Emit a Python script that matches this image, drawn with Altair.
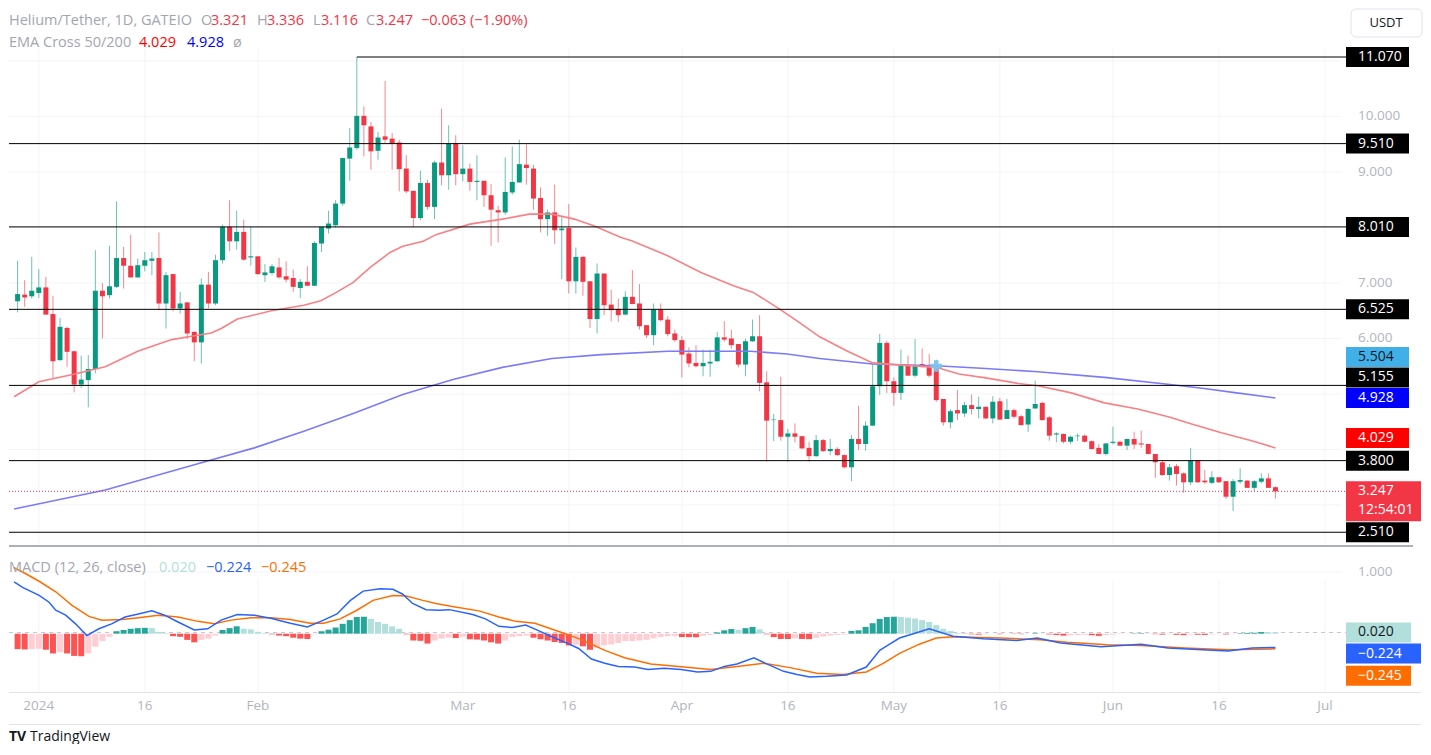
import altair as alt
import pandas as pd

FONT = "Open Sans"
UP, DN = "#089981", "#F23645"
GRAY_TXT = "#A3A6AF"
AXIS_TXT = "#B2B5BE"

# ---------------- data ----------------
first_day = -5          # first candle = 2023-12-27 (days after 2024-01-01), daily candles
open_ = [7.09, 6.61, 6.67, 6.79, 6.76, 6.82, 6.92, 6.44, 5.61, 6.19,
         5.77, 5.17, 5.25, 5.45, 6.86, 6.78, 6.93, 7.45, 7.31, 7.10,
         7.31, 7.40, 7.45, 6.63, 7.16, 6.54, 6.65, 6.12, 5.93, 6.97,
         6.63, 7.41, 8.01, 7.75, 7.92, 7.46, 7.48, 7.14, 7.18, 7.28,
         7.12, 7.09, 6.91, 7.02, 6.95, 7.71, 7.98, 8.04, 8.43, 9.24,
         9.43, 10.01, 9.82, 9.38, 9.64, 9.60, 9.53, 9.06, 8.66, 8.17,
         8.80, 8.37, 9.17, 8.94, 9.51, 8.96, 9.06, 8.82, 8.84, 8.58,
         8.31, 8.27, 8.63, 8.81, 9.13, 9.06, 8.53, 8.15, 8.27, 7.95,
         7.99, 7.03, 7.47, 7.03, 6.35, 7.17, 6.61, 6.53, 6.43, 6.75,
         6.63, 6.24, 6.06, 6.52, 6.34, 6.09, 5.97, 5.73, 5.56, 5.50,
         5.55, 5.59, 6.02, 6.00, 5.90, 5.53, 5.95, 6.04, 5.21, 4.53,
         4.53, 4.23, 4.29, 4.24, 4.03, 3.88, 4.17, 3.97, 4.01, 3.90,
         3.68, 4.19, 4.10, 4.43, 5.14, 5.92, 5.23, 5.02, 5.52, 5.33,
         5.54, 5.52, 5.51, 4.91, 4.49, 4.71, 4.65, 4.80, 4.73, 4.77,
         4.56, 4.87, 4.55, 4.71, 4.60, 4.45, 4.74, 4.84, 4.58, 4.27,
         4.28, 4.14, 4.24, 4.25, 4.15, 4.03, 3.92, 4.12, 4.14, 4.07,
         4.19, 4.11, 4.10, 3.92, 3.77, 3.54, 3.70, 3.57, 3.41, 3.80,
         3.44, 3.40, 3.50, 3.43, 3.15, 3.42, 3.44, 3.31, 3.42, 3.48,
         3.321]
high_ = [7.15, 7.08, 7.40, 7.05, 7.47, 7.25, 7.11, 6.77, 6.37, 6.21,
         5.78, 5.69, 5.70, 7.59, 7.00, 7.67, 8.47, 7.65, 7.87, 7.44,
         7.56, 7.56, 7.91, 7.20, 7.16, 6.84, 6.65, 6.12, 7.08, 7.20,
         7.51, 8.05, 8.49, 8.30, 8.14, 8.01, 7.48, 7.34, 7.34, 7.45,
         7.39, 7.24, 7.07, 7.30, 7.75, 8.01, 8.30, 8.49, 9.25, 9.79,
         11.07, 10.18, 9.90, 9.72, 10.64, 9.70, 9.58, 9.30, 8.66, 9.02,
         8.86, 9.20, 10.14, 9.84, 9.66, 9.48, 9.15, 9.30, 8.84, 8.78,
         8.39, 9.26, 9.46, 9.58, 9.50, 9.13, 8.72, 8.32, 8.77, 8.20,
         8.42, 7.64, 7.49, 7.03, 7.35, 7.17, 6.88, 6.72, 6.85, 7.23,
         6.98, 6.24, 6.63, 6.63, 6.40, 6.16, 6.04, 5.84, 5.88, 5.80,
         5.80, 6.12, 6.31, 6.16, 5.90, 6.00, 6.34, 6.42, 5.41, 4.64,
         5.31, 4.37, 4.47, 4.24, 4.14, 4.26, 4.19, 4.19, 4.04, 3.91,
         4.26, 4.79, 4.51, 5.54, 6.08, 5.96, 5.30, 5.80, 5.69, 5.99,
         5.82, 5.72, 5.62, 4.91, 4.73, 5.07, 4.86, 4.99, 4.95, 4.77,
         4.96, 4.93, 4.91, 4.74, 4.62, 4.75, 5.24, 4.86, 4.61, 4.31,
         4.29, 4.25, 4.29, 4.27, 4.16, 4.10, 4.11, 4.41, 4.16, 4.19,
         4.32, 4.34, 4.10, 3.92, 3.81, 3.74, 3.74, 3.59, 4.03, 3.80,
         3.63, 3.61, 3.50, 3.43, 3.47, 3.66, 3.45, 3.45, 3.57, 3.57,
         3.336]
low_ = [6.55, 6.21, 6.47, 6.57, 6.72, 6.73, 6.43, 5.28, 5.60, 5.49,
        5.03, 5.11, 4.76, 5.37, 6.00, 6.72, 6.91, 6.90, 7.10, 7.10,
        7.21, 7.14, 6.51, 6.18, 6.49, 6.45, 5.99, 5.59, 5.55, 6.54,
        6.60, 7.35, 7.57, 7.60, 7.40, 7.31, 7.14, 7.02, 7.14, 7.08,
        7.01, 6.84, 6.73, 6.95, 6.95, 7.56, 7.89, 8.00, 8.39, 8.84,
        9.40, 9.28, 9.04, 9.22, 9.52, 9.04, 8.65, 8.62, 8.01, 8.13,
        8.32, 8.15, 8.76, 8.68, 8.76, 8.83, 8.66, 8.49, 8.37, 7.67,
        7.73, 8.23, 8.59, 8.81, 8.77, 8.32, 7.91, 7.85, 7.70, 7.07,
        6.81, 6.81, 6.77, 6.19, 6.09, 6.42, 6.31, 6.30, 6.42, 6.62,
        6.16, 6.01, 5.88, 6.31, 6.04, 5.94, 5.30, 5.48, 5.48, 5.32,
        5.31, 5.58, 5.94, 5.82, 5.48, 5.32, 5.94, 5.05, 3.78, 4.15,
        4.16, 3.78, 4.13, 4.01, 3.78, 3.87, 3.96, 3.90, 3.88, 3.66,
        3.43, 3.99, 3.98, 4.43, 4.98, 5.02, 4.79, 4.89, 5.33, 5.30,
        5.48, 5.30, 4.86, 4.43, 4.38, 4.53, 4.59, 4.63, 4.56, 4.55,
        4.47, 4.53, 4.55, 4.56, 4.43, 4.32, 4.74, 4.52, 4.16, 4.13,
        4.11, 4.10, 4.15, 4.13, 4.00, 3.92, 3.89, 4.09, 4.06, 3.99,
        4.01, 4.03, 3.91, 3.49, 3.53, 3.44, 3.35, 3.22, 3.36, 3.40,
        3.38, 3.38, 3.40, 3.11, 2.89, 3.38, 3.31, 3.25, 3.39, 3.31,
        3.116]
close_ = [6.63, 6.69, 6.80, 6.74, 6.86, 6.92, 6.43, 5.59, 6.21, 5.76,
          5.17, 5.26, 5.45, 6.86, 6.76, 6.94, 7.45, 7.31, 7.10, 7.32,
          7.41, 7.44, 6.63, 7.14, 6.54, 6.63, 6.09, 5.93, 6.97, 6.63,
          7.41, 8.01, 7.75, 7.92, 7.42, 7.48, 7.16, 7.19, 7.30, 7.10,
          7.06, 6.93, 7.02, 6.95, 7.72, 8.01, 8.07, 8.43, 9.25, 9.44,
          10.01, 9.84, 9.37, 9.62, 9.58, 9.51, 9.05, 8.65, 8.17, 8.80,
          8.37, 9.17, 8.94, 9.51, 8.96, 9.06, 8.82, 8.84, 8.58, 8.32,
          8.27, 8.64, 8.82, 9.14, 9.07, 8.52, 8.15, 8.27, 7.95, 7.98,
          7.03, 7.47, 7.02, 6.35, 7.17, 6.60, 6.51, 6.42, 6.75, 6.62,
          6.22, 6.06, 6.52, 6.33, 6.08, 5.97, 5.71, 5.55, 5.50, 5.56,
          5.58, 6.02, 5.98, 5.88, 5.53, 5.95, 6.04, 5.20, 4.52, 4.54,
          4.23, 4.29, 4.23, 4.02, 3.88, 4.17, 3.97, 4.01, 3.90, 3.68,
          4.19, 4.10, 4.43, 5.14, 5.92, 5.23, 5.02, 5.52, 5.33, 5.52,
          5.49, 5.33, 4.89, 4.49, 4.69, 4.65, 4.80, 4.73, 4.77, 4.56,
          4.86, 4.54, 4.71, 4.59, 4.44, 4.73, 4.82, 4.53, 4.25, 4.29,
          4.14, 4.23, 4.25, 4.14, 4.01, 3.92, 4.11, 4.14, 4.07, 4.19,
          4.09, 4.09, 3.92, 3.77, 3.54, 3.68, 3.56, 3.41, 3.80, 3.41,
          3.41, 3.50, 3.41, 3.15, 3.43, 3.45, 3.31, 3.43, 3.48, 3.31,
          3.247]
hist_ = [-0.21, -0.22, -0.25, -0.255, -0.25, -0.245, -0.26, -0.32, -0.30, -0.32,
         -0.36, -0.365, -0.32, -0.21, -0.12, -0.05, 0.04, 0.06, 0.08, 0.09,
         0.095, 0.09, 0.03, 0.01, -0.04, -0.05, -0.10, -0.14, -0.10, -0.08,
         -0.03, 0.06, 0.09, 0.12, 0.08, 0.07, 0.03, 0.01, -0.01, -0.03,
         -0.04, -0.065, -0.08, -0.085, -0.01, 0.04, 0.065, 0.10, 0.16, 0.22,
         0.27, 0.275, 0.24, 0.19, 0.16, 0.12, 0.08, -0.01, -0.11, -0.115,
         -0.16, -0.11, -0.08, -0.065, -0.07, -0.05, -0.09, -0.095, -0.11, -0.14,
         -0.16, -0.11, -0.05, -0.04, -0.03, -0.065, -0.09, -0.11, -0.135, -0.15,
         -0.19, -0.18, -0.205, -0.26, -0.22, -0.19, -0.175, -0.15, -0.12, -0.118,
         -0.11, -0.10, -0.075, -0.055, -0.04, -0.035, -0.055, -0.056, -0.058, -0.035,
         -0.02, 0.02, 0.055, 0.075, 0.065, 0.09, 0.11, 0.07, -0.01, -0.055,
         -0.085, -0.087, -0.075, -0.085, -0.088, -0.065, -0.045, -0.03, -0.02, -0.015,
         0.045, 0.055, 0.11, 0.17, 0.24, 0.27, 0.275, 0.27, 0.26, 0.245,
         0.22, 0.19, 0.14, 0.08, 0.045, 0.01, -0.005, -0.01, -0.015, -0.01,
         -0.003, -0.008, -0.004, -0.006, -0.008, -0.002, 0.008, 0.004, -0.012, -0.022,
         -0.032, -0.028, -0.022, -0.018, -0.025, -0.035, -0.022, -0.015, -0.008, -0.003,
         0.006, 0.008, -0.002, -0.008, -0.015, -0.01, -0.018, -0.024, -0.015, -0.017,
         -0.02, -0.012, -0.006, -0.012, -0.006, 0.008, 0.012, 0.015, 0.027, 0.025,
         0.02]

# EMA / MACD readings: days after 2024-01-01 and values
ema50_day = [-3.5, 0.0, 4.8, 9.4, 14.0, 18.8, 21.6, 24.4, 25.8, 28.1,
             32.9, 37.5, 39.9, 42.1, 44.5, 46.9, 49.7, 51.5, 54.4, 56.2,
             61.0, 65.6, 69.4, 72.6, 75.8, 78.7, 82.4, 83.9, 89.0, 93.7,
             98.3, 101.1, 104.9, 107.7, 110.5, 114.3, 118.0, 122.2, 127.0, 130.2,
             134.0, 138.6, 141.4, 146.1, 150.8, 155.5, 160.1, 162.9, 167.1, 171.9,
             175.0]
ema50_val = [4.95, 5.22, 5.35, 5.49, 5.77, 5.98, 6.04, 6.10, 6.18, 6.35,
             6.50, 6.60, 6.68, 6.83, 7.01, 7.28, 7.55, 7.66, 7.75, 7.87,
             8.06, 8.15, 8.24, 8.24, 8.15, 8.02, 7.82, 7.76, 7.49, 7.19,
             6.95, 6.83, 6.525, 6.28, 6.03, 5.78, 5.56, 5.52, 5.48, 5.36,
             5.29, 5.19, 5.15, 5.02, 4.84, 4.73, 4.58, 4.47, 4.31, 4.15,
             4.029]
ema200_day = [-3.5, 9.4, 23.5, 30.5, 37.5, 44.5, 51.5, 58.6, 65.6, 72.6,
              79.6, 89.0, 100.7, 105.9, 110.5, 118.0, 127.0, 134.0, 141.4, 150.8,
              160.1, 164.9, 169.5, 175.0]
ema200_val = [2.93, 3.27, 3.78, 4.03, 4.33, 4.65, 4.99, 5.26, 5.48, 5.64,
              5.71, 5.77, 5.77, 5.72, 5.64, 5.54, 5.51, 5.46, 5.40, 5.30,
              5.17, 5.10, 5.02, 4.928]
macd_day = [-3.5, -2.3, 0.05, 1.45, 2.4, 3.8, 5.2, 6.8, 8.5, 10.3,
            12.2, 14.1, 16.0, 17.8, 19.7, 22.0, 23.9, 25.8, 28.1, 30.5,
            32.8, 35.6, 38.0, 40.3, 42.2, 44.1, 45.9, 48.3, 50.1, 51.5,
            52.9, 54.8, 56.7, 58.1, 61.4, 63.2, 65.1, 67.0, 68.9, 70.7,
            72.6, 74.5, 76.4, 78.2, 80.1, 82.0, 84.3, 86.2, 88.5, 90.9,
            93.2, 95.1, 97.0, 98.8, 101.2, 103.0, 105.4, 107.3, 109.1, 111.5,
            114.3, 117.1, 119.0, 120.4, 121.8, 124.1, 126.0, 127.9, 129.4, 133.7,
            138.4, 141.3, 144.6, 150.3, 156.0, 159.8, 164.6, 168.3, 171.7, 175.0]
macd_val = [0.84, 0.75, 0.62, 0.51, 0.38, 0.30, 0.16, -0.03, 0.08, 0.16,
            0.27, 0.32, 0.37, 0.30, 0.19, 0.06, 0.08, 0.22, 0.31, 0.30,
            0.25, 0.17, 0.11, 0.22, 0.32, 0.54, 0.69, 0.73, 0.72, 0.64,
            0.49, 0.39, 0.38, 0.39, 0.31, 0.24, 0.12, 0.10, 0.14, 0.05,
            -0.05, -0.14, -0.24, -0.41, -0.48, -0.53, -0.54, -0.58, -0.56, -0.58,
            -0.62, -0.61, -0.53, -0.49, -0.39, -0.49, -0.61, -0.66, -0.70, -0.69,
            -0.67, -0.54, -0.27, -0.17, -0.07, 0.01, 0.08, 0.01, -0.04, -0.08,
            -0.11, -0.07, -0.15, -0.21, -0.17, -0.23, -0.26, -0.28, -0.23, -0.224]
signal_day = [-3.5, -2.3, 0.05, 2.4, 4.7, 7.1, 8.95, 11.75, 14.1, 16.9,
              19.7, 22.5, 24.85, 27.2, 30.0, 32.8, 35.6, 38.4, 40.3, 42.65,
              45.0, 47.3, 50.1, 52.0, 54.35, 56.2, 58.5, 62.3, 65.1, 67.5,
              70.2, 74.0, 76.4, 78.2, 80.1, 82.9, 86.6, 91.3, 95.1, 98.8,
              102.6, 106.3, 110.1, 113.8, 117.1, 119.5, 121.8, 124.6, 127.0, 129.4,
              136.0, 141.7, 145.5, 151.2, 156.0, 162.2, 168.3, 175.0]
signal_val = [1.07, 1.00, 0.85, 0.68, 0.46, 0.28, 0.22, 0.23, 0.26, 0.30,
              0.27, 0.20, 0.16, 0.22, 0.26, 0.26, 0.23, 0.17, 0.17, 0.24,
              0.38, 0.54, 0.62, 0.61, 0.54, 0.49, 0.44, 0.37, 0.27, 0.20,
              0.17, 0.02, -0.08, -0.17, -0.27, -0.39, -0.49, -0.54, -0.58, -0.53,
              -0.48, -0.55, -0.64, -0.66, -0.62, -0.48, -0.32, -0.17, -0.07, -0.05,
              -0.07, -0.10, -0.14, -0.18, -0.19, -0.23, -0.26, -0.245]

level_vals = [11.07, 9.51, 8.01, 6.525, 5.155, 3.80, 2.51]
level11_day = 45            # the 11.070 line starts at the top candle
cross_day, cross_val = 127, 5.504
countdown = "12:54:01"
price_ticks = [6, 7, 9, 10]
macd_ticks = [1.0]
tick_days = [0, 15, 31, 60, 75, 91, 106, 121, 136, 152, 167, 182]   # Jan 1 ... Jul 1
tick_labels = ["2024", "16", "Feb", "Mar", "16", "Apr", "16", "May", "16", "Jun", "16", "Jul"]

# ---------------- layout ----------------
W = 1332
HP, HM = 538, 142
PPD = 7.12
X_DOM = [-25 / PPD, (W - 25) / PPD]          # x in days after 2024-01-01
P_DOM = [11.07 - 490 / 55.52, 11.07 + 48 / 55.52]
M_DOM = [(631.7 - 690) / 61.7, (631.7 - 548) / 61.7]
BOX_X0, BOX_X1, TXT_X = 1337, 1400, 1349


def X():
    return alt.X("t:Q", scale=alt.Scale(domain=X_DOM, nice=False, zero=False), axis=None)


def PY(f):
    return alt.Y(f, type="quantitative",
                 scale=alt.Scale(domain=P_DOM, nice=False, zero=False), axis=None)


def MY(f):
    return alt.Y(f, type="quantitative",
                 scale=alt.Scale(domain=M_DOM, nice=False, zero=False), axis=None)


def one(**kw):
    return pd.DataFrame({k: [v] for k, v in kw.items()})


n = len(open_)
cd = pd.DataFrame({"t": [float(first_day + i) for i in range(n)],
                   "o": open_, "h": high_, "l": low_, "c": close_})
cd = cd[cd.t >= X_DOM[0]]
up_df = cd[cd.c >= cd.o]
dn_df = cd[cd.c < cd.o]

P = []
# faint grid
P.append(alt.Chart(pd.DataFrame({"v": [3, 4, 5, 6, 7, 8, 9, 10, 11]})).mark_rule(
    color="#F3F4F7", strokeWidth=1).encode(x=alt.value(0), x2=alt.value(W), y=PY("v")))
P.append(alt.Chart(pd.DataFrame({"t": [float(d) for d in tick_days]})).mark_rule(
    color="#F3F4F7", strokeWidth=1).encode(x=X(), y=alt.value(40), y2=alt.value(HP)))
# price scale labels
P.append(alt.Chart(pd.DataFrame({"v": price_ticks,
                                 "s": [f"{v:.3f}" for v in price_ticks]})).mark_text(
    align="left", baseline="middle", color=AXIS_TXT, font=FONT, fontSize=13.5).encode(
    x=alt.value(TXT_X), y=PY("v"), text="s:N"))

for df, col in ((up_df, UP), (dn_df, DN)):
    P.append(alt.Chart(df).mark_rule(color=col, strokeWidth=1, opacity=0.6).encode(
        x=X(), y=PY("l"), y2="h:Q"))
    P.append(alt.Chart(df).mark_bar(size=5, color=col).encode(
        x=X(), y=PY("o"), y2="c:Q"))

e50 = pd.DataFrame({"t": ema50_day, "v": ema50_val})
e200 = pd.DataFrame({"t": ema200_day, "v": ema200_val})
P.append(alt.Chart(e200).mark_line(color="#7B7BFA", strokeWidth=1.6).encode(x=X(), y=PY("v")))
P.append(alt.Chart(e50).mark_line(color="#F98184", strokeWidth=1.6).encode(x=X(), y=PY("v")))

P.append(alt.Chart(pd.DataFrame({"v": level_vals[1:]})).mark_rule(
    color="#000000", strokeWidth=1).encode(x=alt.value(0), x2=alt.value(BOX_X0), y=PY("v")))
P.append(alt.Chart(one(t=float(level11_day), v=level_vals[0])).mark_rule(
    color="#000000", strokeWidth=1).encode(x=X(), x2=alt.value(BOX_X0), y=PY("v")))
P.append(alt.Chart(one(v=close_[-1])).mark_rule(
    color=DN, strokeWidth=1, strokeDash=[1, 2]).encode(
    x=alt.value(0), x2=alt.value(BOX_X0), y=PY("v")))
P.append(alt.Chart(one(t=float(cross_day), v=cross_val)).mark_point(
    shape="cross", filled=True, size=130, color="#7DC3EE", opacity=0.95).encode(
    x=X(), y=PY("v")))

price_labels = [
    (f"{level_vals[0]:.3f}", level_vals[0], "#000000", "#FFFFFF", 0),
    (f"{level_vals[1]:.3f}", level_vals[1], "#000000", "#FFFFFF", 0),
    (f"{level_vals[2]:.3f}", level_vals[2], "#000000", "#FFFFFF", 0),
    (f"{level_vals[3]:.3f}", level_vals[3], "#000000", "#FFFFFF", 0),
    (f"{cross_val:.3f}", cross_val, "#42B0E8", "#131722", -9),
    (f"{level_vals[4]:.3f}", level_vals[4], "#000000", "#FFFFFF", -8),
    (f"{ema200_val[-1]:.3f}", ema200_val[-1], "#0000FF", "#FFFFFF", 0),
    (f"{ema50_val[-1]:.3f}", ema50_val[-1], "#FF0000", "#FFFFFF", -10),
    (f"{level_vals[5]:.3f}", level_vals[5], "#000000", "#FFFFFF", 0),
    (f"{level_vals[6]:.3f}", level_vals[6], "#000000", "#FFFFFF", 0),
]
for s, v, bg, fg, nd in price_labels:
    d = one(v=v, s=s)
    P.append(alt.Chart(d).mark_rect(color=bg, yOffset=-10 + nd, y2Offset=10 + nd).encode(
        x=alt.value(BOX_X0), x2=alt.value(BOX_X1), y=PY("v"), y2="v:Q"))
    P.append(alt.Chart(d).mark_text(align="left", baseline="middle", color=fg,
                                    font=FONT, fontSize=14, dy=nd).encode(
        x=alt.value(TXT_X), y=PY("v"), text="s:N"))
d = one(v=close_[-1], s=f"{close_[-1]:.3f}", s2=countdown)
P.append(alt.Chart(d).mark_rect(color=DN, yOffset=-10, y2Offset=30).encode(
    x=alt.value(BOX_X0), x2=alt.value(1412), y=PY("v"), y2="v:Q"))
P.append(alt.Chart(d).mark_text(align="left", baseline="middle", color="#FFFFFF",
                                font=FONT, fontSize=14).encode(
    x=alt.value(TXT_X), y=PY("v"), text="s:N"))
P.append(alt.Chart(d).mark_text(align="left", baseline="middle", color="#FFFFFF",
                                font=FONT, fontSize=14, dy=19).encode(
    x=alt.value(TXT_X), y=PY("v"), text="s2:N"))

chg = close_[-1] - close_[-2]
pct = chg / close_[-2] * 100
m = "\u2212"
top_legend = pd.DataFrame({
    "s": ["Helium/Tether, 1D, GATEIO", "O", f"{open_[-1]:.3f}", "H", f"{high_[-1]:.3f}",
          "L", f"{low_[-1]:.3f}", "C", f"{close_[-1]:.3f}",
          f"{chg:.3f} ({pct:.2f}%)".replace("-", m),
          "EMA Cross 50/200", f"{ema50_val[-1]:.3f}", f"{ema200_val[-1]:.3f}", "\u00f8"],
    "px": [0, 192, 202, 248, 258, 304, 312, 357, 367, 412, 0, 130, 178, 224],
    "py": [12] * 10 + [34] * 4,
    "col": [GRAY_TXT, GRAY_TXT, DN, GRAY_TXT, DN, GRAY_TXT, DN, GRAY_TXT, DN, DN,
            GRAY_TXT, "#FF0000", "#0000FF", GRAY_TXT],
})
for _, r in top_legend.iterrows():
    P.append(alt.Chart(one(s=r.s)).mark_text(align="left", baseline="middle", color=r.col,
                                             font=FONT, fontSize=14.5).encode(
        x=alt.value(int(r.px)), y=alt.value(int(r.py)), text="s:N"))
P.append(alt.Chart(one(a=1)).mark_rect(fill="#FFFFFF", stroke="#E0E3EB", strokeWidth=1,
                                       cornerRadius=5).encode(
    x=alt.value(1342), x2=alt.value(1413), y=alt.value(0), y2=alt.value(28)))
P.append(alt.Chart(one(s="USDT")).mark_text(align="center", baseline="middle",
                                            color="#131722", font=FONT, fontSize=13).encode(
    x=alt.value(1377), y=alt.value(14), text="s:N"))
P.append(alt.Chart(one(a=1)).mark_rule(color="#ADB0B8", strokeWidth=2).encode(
    x=alt.value(0), x2=alt.value(1404), y=alt.value(537)))

price_panel = alt.layer(*P).properties(width=W, height=HP)

# ---------------- MACD pane ----------------
COLS = {"pu": "#26A69A", "pd": "#B2DFDB", "nu": "#FFCDD2", "nd": "#FF5252"}
cats = []
for i, h in enumerate(hist_):
    prev = hist_[i - 1] if i > 0 else h
    if h >= 0:
        cats.append("pu" if h >= prev else "pd")
    else:
        cats.append("nd" if h <= prev else "nu")
hd = pd.DataFrame({"t": [float(first_day + i) for i in range(n)], "h": hist_, "cat": cats,
                   "z": [0.0] * n})
hd = hd[hd.t >= X_DOM[0]]
md = pd.DataFrame({"t": macd_day, "v": macd_val})
sd = pd.DataFrame({"t": signal_day, "v": signal_val})

M = []
M.append(alt.Chart(pd.DataFrame({"t": [float(d) for d in tick_days]})).mark_rule(
    color="#F3F4F7", strokeWidth=1).encode(x=X(), y=alt.value(30), y2=alt.value(HM)))
M.append(alt.Chart(pd.DataFrame({"v": macd_ticks})).mark_rule(color="#F3F4F7").encode(
    x=alt.value(0), x2=alt.value(W), y=MY("v")))
M.append(alt.Chart(one(v=hist_[-1])).mark_rule(
    color="#C3C6CE", strokeDash=[4, 4], strokeWidth=1).encode(
    x=alt.value(0), x2=alt.value(BOX_X0), y=MY("v")))
M.append(alt.Chart(hd).mark_bar(size=6).encode(
    x=X(), y=MY("h"), y2="z:Q",
    color=alt.Color("cat:N", legend=None,
                    scale=alt.Scale(domain=list(COLS.keys()), range=list(COLS.values())))))
M.append(alt.Chart(sd).mark_line(color="#FF6D00", strokeWidth=1.5).encode(x=X(), y=MY("v")))
M.append(alt.Chart(md).mark_line(color="#2962FF", strokeWidth=1.5).encode(x=X(), y=MY("v")))
M.append(alt.Chart(pd.DataFrame({"v": macd_ticks,
                                 "s": [f"{v:.3f}" for v in macd_ticks]})).mark_text(
    align="left", baseline="middle", color=AXIS_TXT, font=FONT, fontSize=13.5).encode(
    x=alt.value(TXT_X), y=MY("v"), text="s:N"))
macd_labels = [
    (f"{hist_[-1]:.3f}", hist_[-1], "#B2DFDB", "#131722", 0, 1402),
    (f"{macd_val[-1]:.3f}".replace("-", m), macd_val[-1], "#2962FF", "#FFFFFF", 6, 1412),
    (f"{signal_val[-1]:.3f}".replace("-", m), signal_val[-1], "#FF6D00", "#FFFFFF", 27, 1402),
]
for s, v, bg, fg, nd, x2 in macd_labels:
    d = one(v=v, s=s)
    M.append(alt.Chart(d).mark_rect(color=bg, yOffset=-10 + nd, y2Offset=10 + nd).encode(
        x=alt.value(BOX_X0), x2=alt.value(x2), y=MY("v"), y2="v:Q"))
    M.append(alt.Chart(d).mark_text(align="left", baseline="middle", color=fg,
                                    font=FONT, fontSize=14, dy=nd).encode(
        x=alt.value(TXT_X), y=MY("v"), text="s:N"))
macd_legend = [
    ("MACD (12, 26, close)", 0, GRAY_TXT),
    (f"{hist_[-1]:.3f}", 150, "#B2DFDB"),
    (f"{macd_val[-1]:.3f}".replace("-", m), 197, "#2962FF"),
    (f"{signal_val[-1]:.3f}".replace("-", m), 252, "#FF6D00"),
]
for s, px, col in macd_legend:
    M.append(alt.Chart(one(s=s)).mark_text(align="left", baseline="middle", color=col,
                                           font=FONT, fontSize=14.5).encode(
        x=alt.value(px), y=alt.value(18), text="s:N"))
# time-scale labels, drawn through the x scale
M.append(alt.Chart(pd.DataFrame({"t": [float(d) for d in tick_days], "s": tick_labels})).mark_text(
    align="center", baseline="middle", color=AXIS_TXT, font=FONT, fontSize=13.5).encode(
    x=X(), y=alt.value(HM + 14), text="s:N"))
M.append(alt.Chart(one(a=1)).mark_rule(color="#E0E3EB", strokeWidth=1).encode(
    x=alt.value(0), x2=alt.value(1412), y=alt.value(HM + 0.5)))
M.append(alt.Chart(one(a=2)).mark_rule(color="#E0E3EB", strokeWidth=1).encode(
    x=alt.value(0), x2=alt.value(1412), y=alt.value(HM + 32.5)))
M.append(alt.Chart(one(s="TV")).mark_text(align="left", baseline="middle", color="#131722",
                                          font=FONT, fontSize=14, fontWeight="bold").encode(
    x=alt.value(0), y=alt.value(HM + 45), text="s:N"))
M.append(alt.Chart(one(s="TradingView")).mark_text(align="left", baseline="middle",
                                                   color="#131722", font=FONT,
                                                   fontSize=14).encode(
    x=alt.value(21), y=alt.value(HM + 45), text="s:N"))

macd_panel = alt.layer(*M).properties(width=W, height=HM)

chart = (alt.vconcat(price_panel, macd_panel, spacing=2)
         .properties(padding=0)
         .configure_view(strokeWidth=0))

chart.save("out.html", embed_options={"renderer": "svg", "actions": False})
